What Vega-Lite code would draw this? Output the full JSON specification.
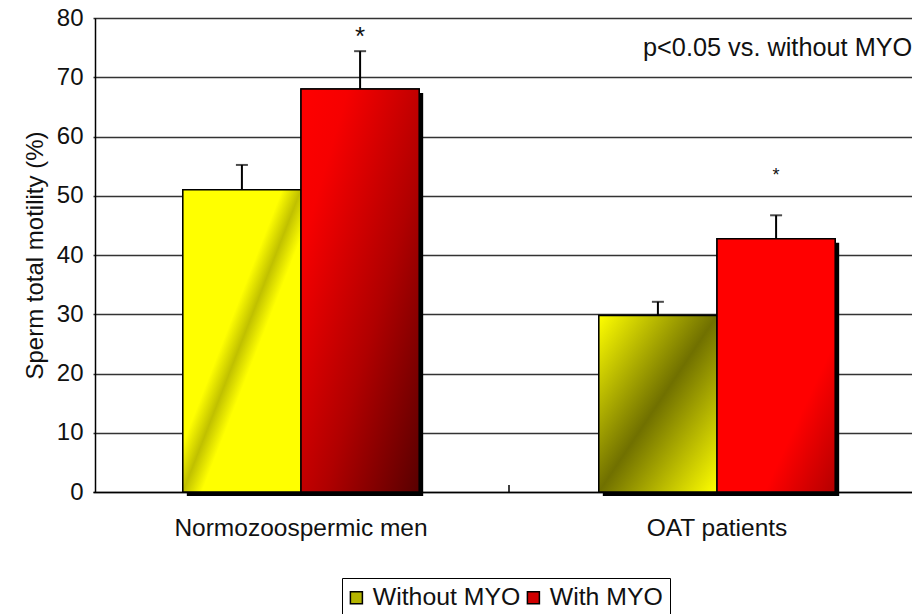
{
  "$schema": "https://vega.github.io/schema/vega-lite/v6.json",
  "width": 817,
  "height": 474,
  "autosize": {"type": "none"},
  "padding": {"left": 95, "top": 18, "right": 0, "bottom": 122},
  "background": "white",
  "config": {
    "view": {"stroke": null},
    "font": "Liberation Sans",
    "axis": {"labelFont": "Liberation Sans", "titleFont": "Liberation Sans", "labelColor": "#111111", "titleColor": "#111111", "titleFontWeight": "normal"},
    "legend": {"labelFont": "Liberation Sans", "labelColor": "#111111"}
  },
  "datasets": {
    "bars": [
      {"category": "Normozoospermic men", "group": "Without MYO", "value": 51.0, "upper": 55.2},
      {"category": "Normozoospermic men", "group": "With MYO", "value": 68.0, "upper": 74.4},
      {"category": "OAT patients", "group": "Without MYO", "value": 29.8, "upper": 32.1},
      {"category": "OAT patients", "group": "With MYO", "value": 42.75, "upper": 46.7}
    ],
    "stars": [
      {"category": "Normozoospermic men", "group": "With MYO", "label": "*", "pos": 75.4},
      {"category": "OAT patients", "group": "With MYO", "label": "*", "pos": 52.5}
    ],
    "note": [
      {"category": "OAT patients", "label": "p<0.05 vs. without MYO", "pos": 73.6}
    ],
    "divider": [
      {"category": "OAT patients", "lo": 0, "hi": 1.2}
    ]
  },
  "resolve": {"scale": {"xOffset": "independent"}},
  "layer": [
    {
      "data": {"name": "bars"},
      "mark": {"type": "bar", "fill": "black", "yOffset": 4, "y2Offset": 4},
      "encoding": {
        "x": {
          "field": "category", "type": "nominal", "sort": ["Normozoospermic men", "OAT patients"], "title": null,
          "scale": {"range": [-2, 830], "paddingInner": 0, "paddingOuter": 0},
          "axis": {"labelFontSize": 24.5, "labelAngle": 0, "labelPadding": 24, "labelLimit": 0, "ticks": false, "domainColor": "black", "domainWidth": 1.5, "grid": false}
        },
        "xOffset": {"field": "group", "type": "nominal", "sort": ["Without MYO", "With MYO"], "scale": {"range": [4, 420], "paddingInner": 0, "paddingOuter": 0.76}},
        "y": {
          "field": "value", "type": "quantitative", "title": "Sperm total motility (%)",
          "scale": {"domain": [0, 80], "nice": false},
          "axis": {"values": [0, 10, 20, 30, 40, 50, 60, 70, 80], "grid": true, "gridColor": "#333333", "gridWidth": 1.5, "ticks": false, "domainColor": "black", "domainWidth": 1.5, "labelFontSize": 24, "labelPadding": 12, "titleFontSize": 24, "titlePadding": 9}
        }
      }
    },
    {
      "layer": [
        {
          "data": {"name": "bars"},
          "mark": {"type": "bar", "stroke": "black", "strokeWidth": 1.5},
          "encoding": {
            "x": {"field": "category", "type": "nominal", "sort": ["Normozoospermic men", "OAT patients"], "title": null},
            "xOffset": {"field": "group", "type": "nominal", "sort": ["Without MYO", "With MYO"], "scale": {"paddingInner": 0, "paddingOuter": 0.76}},
            "y": {"field": "value", "type": "quantitative", "title": "Sperm total motility (%)"},
            "color": {
              "field": "group", "type": "nominal", "sort": ["Without MYO", "With MYO"],
              "scale": {"domain": ["Without MYO", "With MYO"], "range": ["#b4b400", "#d00000"]},
              "legend": {
                "title": null, "orient": "none", "legendX": 247, "legendY": 560, "direction": "horizontal",
                "strokeColor": "black", "fillColor": "white", "padding": 7,
                "symbolType": "square", "symbolSize": 144, "symbolStrokeColor": "black", "symbolStrokeWidth": 1.5, "symbolOpacity": 1, "symbolOffset": -5,
                "labelFontSize": 24.8, "labelOffset": 4, "columnPadding": 3
              }
            }
          }
        },
        {
          "data": {"name": "bars"},
          "transform": [{"filter": "datum.category === 'Normozoospermic men' && datum.group === 'Without MYO'"}],
          "mark": {"type": "bar", "stroke": "black", "strokeWidth": 1.5, "fill": {"gradient": "linear", "x1": 0, "y1": 0, "x2": 1, "y2": 1, "stops": [{"offset": 0, "color": "#ffff00"}, {"offset": 0.42, "color": "#ffff00"}, {"offset": 0.5, "color": "#c0c000"}, {"offset": 0.58, "color": "#ffff00"}, {"offset": 1, "color": "#ffff00"}]}},
          "encoding": {
            "x": {"field": "category", "type": "nominal", "sort": ["Normozoospermic men", "OAT patients"], "title": null},
            "xOffset": {"field": "group", "type": "nominal", "sort": ["Without MYO", "With MYO"]},
            "y": {"field": "value", "type": "quantitative", "title": "Sperm total motility (%)"}
          }
        },
        {
          "data": {"name": "bars"},
          "transform": [{"filter": "datum.category === 'Normozoospermic men' && datum.group === 'With MYO'"}],
          "mark": {"type": "bar", "stroke": "black", "strokeWidth": 1.5, "fill": {"gradient": "linear", "x1": 0, "y1": 0, "x2": 1, "y2": 1, "stops": [{"offset": 0, "color": "#ff0000"}, {"offset": 0.2, "color": "#f60000"}, {"offset": 0.6, "color": "#b00000"}, {"offset": 1, "color": "#580000"}]}},
          "encoding": {
            "x": {"field": "category", "type": "nominal", "sort": ["Normozoospermic men", "OAT patients"], "title": null},
            "xOffset": {"field": "group", "type": "nominal", "sort": ["Without MYO", "With MYO"]},
            "y": {"field": "value", "type": "quantitative", "title": "Sperm total motility (%)"}
          }
        },
        {
          "data": {"name": "bars"},
          "transform": [{"filter": "datum.category === 'OAT patients' && datum.group === 'Without MYO'"}],
          "mark": {"type": "bar", "stroke": "black", "strokeWidth": 1.5, "fill": {"gradient": "linear", "x1": 0, "y1": 0, "x2": 1, "y2": 1, "stops": [{"offset": 0, "color": "#ffff00"}, {"offset": 0.5, "color": "#707000"}, {"offset": 1, "color": "#ffff00"}]}},
          "encoding": {
            "x": {"field": "category", "type": "nominal", "sort": ["Normozoospermic men", "OAT patients"], "title": null},
            "xOffset": {"field": "group", "type": "nominal", "sort": ["Without MYO", "With MYO"]},
            "y": {"field": "value", "type": "quantitative", "title": "Sperm total motility (%)"}
          }
        },
        {
          "data": {"name": "bars"},
          "transform": [{"filter": "datum.category === 'OAT patients' && datum.group === 'With MYO'"}],
          "mark": {"type": "bar", "stroke": "black", "strokeWidth": 1.5, "fill": {"gradient": "linear", "x1": 0, "y1": 0, "x2": 1, "y2": 1, "stops": [{"offset": 0, "color": "#ff0000"}, {"offset": 0.7, "color": "#ff0000"}, {"offset": 1, "color": "#b40000"}]}},
          "encoding": {
            "x": {"field": "category", "type": "nominal", "sort": ["Normozoospermic men", "OAT patients"], "title": null},
            "xOffset": {"field": "group", "type": "nominal", "sort": ["Without MYO", "With MYO"]},
            "y": {"field": "value", "type": "quantitative", "title": "Sperm total motility (%)"}
          }
        },
        {
          "data": {"name": "bars"},
          "mark": {"type": "rule", "color": "black", "strokeWidth": 2},
          "encoding": {
            "x": {"field": "category", "type": "nominal", "sort": ["Normozoospermic men", "OAT patients"], "title": null},
            "xOffset": {"field": "group", "type": "nominal", "sort": ["Without MYO", "With MYO"]},
            "y": {"field": "value", "type": "quantitative", "title": "Sperm total motility (%)"},
            "y2": {"field": "upper"}
          }
        },
        {
          "data": {"name": "bars"},
          "mark": {"type": "tick", "color": "black", "size": 12, "thickness": 2, "orient": "horizontal"},
          "encoding": {
            "x": {"field": "category", "type": "nominal", "sort": ["Normozoospermic men", "OAT patients"], "title": null},
            "xOffset": {"field": "group", "type": "nominal", "sort": ["Without MYO", "With MYO"]},
            "y": {"field": "upper", "type": "quantitative", "title": "Sperm total motility (%)"}
          }
        },
        {
          "data": {"name": "stars"},
          "transform": [{"filter": "datum.category === 'Normozoospermic men'"}],
          "mark": {"type": "text", "fontSize": 26, "baseline": "alphabetic", "align": "center", "color": "#111111"},
          "encoding": {
            "x": {"field": "category", "type": "nominal", "sort": ["Normozoospermic men", "OAT patients"], "title": null},
            "xOffset": {"field": "group", "type": "nominal", "sort": ["Without MYO", "With MYO"]},
            "y": {"field": "pos", "type": "quantitative", "title": "Sperm total motility (%)"},
            "text": {"field": "label"}
          }
        },
        {
          "data": {"name": "stars"},
          "transform": [{"filter": "datum.category === 'OAT patients'"}],
          "mark": {"type": "text", "fontSize": 18, "baseline": "alphabetic", "align": "center", "color": "#111111"},
          "encoding": {
            "x": {"field": "category", "type": "nominal", "sort": ["Normozoospermic men", "OAT patients"], "title": null},
            "xOffset": {"field": "group", "type": "nominal", "sort": ["Without MYO", "With MYO"]},
            "y": {"field": "pos", "type": "quantitative", "title": "Sperm total motility (%)"},
            "text": {"field": "label"}
          }
        },
        {
          "data": {"name": "note"},
          "mark": {"type": "text", "fontSize": 25.3, "baseline": "alphabetic", "align": "left", "dx": -74, "color": "#111111"},
          "encoding": {
            "x": {"field": "category", "type": "nominal", "sort": ["Normozoospermic men", "OAT patients"], "title": null},
            "y": {"field": "pos", "type": "quantitative", "title": "Sperm total motility (%)"},
            "text": {"field": "label"}
          }
        },
        {
          "data": {"name": "divider"},
          "mark": {"type": "rule", "color": "black", "strokeWidth": 1.5},
          "encoding": {
            "x": {"field": "category", "type": "nominal", "sort": ["Normozoospermic men", "OAT patients"], "title": null, "bandPosition": 0},
            "y": {"field": "lo", "type": "quantitative", "title": "Sperm total motility (%)"},
            "y2": {"field": "hi"}
          }
        }
      ]
    }
  ]
}
